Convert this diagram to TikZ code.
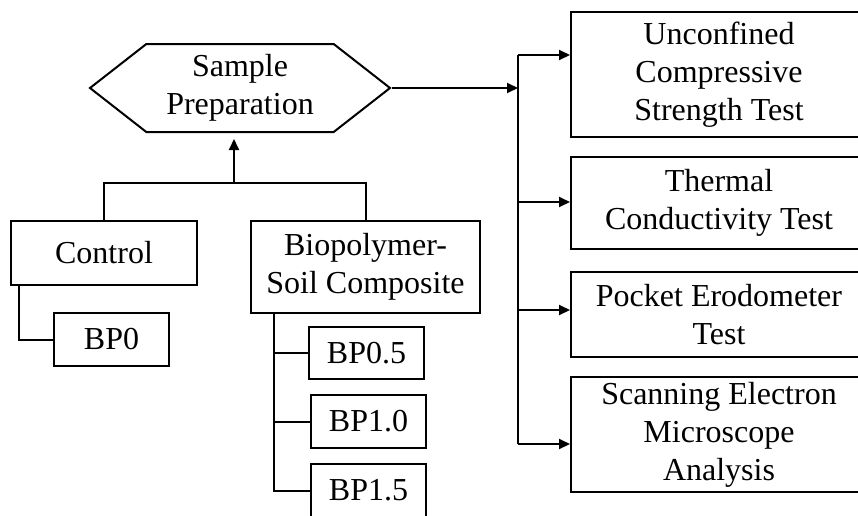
\documentclass[tikz,border=0pt]{standalone}
\usepackage{fontspec}
\setmainfont{Liberation Serif}
\usetikzlibrary{arrows.meta,shapes.symbols}

\begin{document}
\begin{tikzpicture}[x=0.5pt, y=-0.5pt, line width=1pt,
    every node/.style={font=\fontsize{16}{19}\selectfont, align=center, inner sep=0pt},
    box/.style={draw, rectangle},
    arr/.style={-{Triangle[length=5.5pt,width=5pt]}}]
    \clip (0,0) rectangle (858,515);
    % Sample preparation
    \node[draw, signal, signal to=east and west, signal pointer angle=76,
        minimum width=150pt, minimum height=44pt] (prep) at (240,88) {Sample\\Preparation};
    % Sample groups
    \node[box, minimum width=93pt, minimum height=32pt] (ctrl) at (104,253) {Control};
    \node[box, minimum width=57.5pt, minimum height=26.5pt] (bp0) at (111.5,339.5) {BP0};
    \node[box, minimum width=114.5pt, minimum height=46pt] (comp) at (365.5,267) {Biopolymer-\\Soil Composite};
    \node[box, minimum width=57.5pt, minimum height=26pt] (bp05) at (366.5,353) {BP0.5};
    \node[box, minimum width=57.5pt, minimum height=26.5pt] (bp10) at (368.5,421.5) {BP1.0};
    \node[box, minimum width=57.5pt, minimum height=26.5pt] (bp15) at (368.5,490.5) {BP1.5};
    % Tests
    \node[box, minimum width=148pt, minimum height=62.5pt] (ucs) at (719,74.5) {Unconfined\\Compressive\\Strength Test};
    \node[box, minimum width=148pt, minimum height=46pt] (tc) at (719,203) {Thermal\\Conductivity Test};
    \node[box, minimum width=148pt, minimum height=42.5pt] (pet) at (719,314.5) {Pocket Erodometer\\Test};
    \node[box, minimum width=148pt, minimum height=57.5pt] (sem) at (719,434.5) {Scanning Electron\\Microscope\\Analysis};
    % Groups to preparation
    \coordinate (join) at (234,183);
    \draw (ctrl.north) |- (join) -| (comp.north);
    \draw[arr, shorten >=3pt] (join) -- (join |- prep.south);
    \draw ([xshift=4.5pt]ctrl.south west) |- (bp0.west);
    \foreach \n in {bp05,bp10,bp15}
        \draw ([xshift=12pt]comp.south west) |- (\n.west);
    % Preparation to tests
    \coordinate (bus) at (518,88);
    \coordinate (b1) at (518,55);
    \coordinate (b2) at (518,202);
    \coordinate (b3) at (518,310);
    \coordinate (b4) at (518,444);
    \draw[arr] (prep.east) -- (bus);
    \draw (b1) -- (b4);
    \draw[arr] (b1) -- (b1 -| ucs.west);
    \draw[arr] (b2) -- (b2 -| tc.west);
    \draw[arr] (b3) -- (b3 -| pet.west);
    \draw[arr] (b4) -- (b4 -| sem.west);
\end{tikzpicture}
\end{document}
